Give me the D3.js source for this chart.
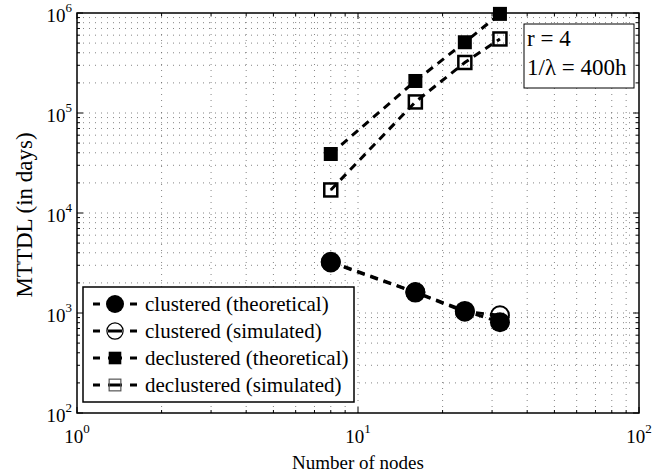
<!DOCTYPE html>
<html>
<head>
<meta charset="utf-8">
<script src="https://cdn.jsdelivr.net/npm/d3@7"></script>
<style>
  body { margin: 0; background: #fff; }
  text { font-family: "Liberation Serif", "Times New Roman", serif; fill: #000; }
</style>
</head>
<body>
<svg id="chart" width="667" height="473"></svg>
<script>
// Data
const nodes = [8, 16, 24, 32];
const clusteredTheo = [3250, 1620, 1050, 810];
const clusteredSim = [3200, 1600, 1030, 950];
const declusteredTheo = [38900, 209000, 510000, 980000];
const declusteredSim = [17000, 129000, 320000, 550000];

const xTickExp = [0, 1, 2];
const yTickExp = [2, 3, 4, 5, 6];

const seriesNames = [
  "clustered (theoretical)",
  "clustered (simulated)",
  "declustered (theoretical)",
  "declustered (simulated)"
];
const seriesValues = [clusteredTheo, clusteredSim, declusteredTheo, declusteredSim];
const seriesMarkers = ["dot", "ring", "square", "box"];

const svg = d3.select("#chart");
const margin = { top: 13, right: 28, bottom: 60, left: 77 };
const W = 667, H = 473;

const x = d3.scaleLog().domain([1, 100]).range([margin.left, W - margin.right]);
const y = d3.scaleLog().domain([100, 1e6]).range([H - margin.bottom, margin.top]);
const [x0, x1] = x.range();
const [y0, y1] = y.range();

// minor + major values
const minorX = [], minorY = [];
for (let e = 0; e < 2; e++) for (let k = 2; k <= 9; k++) minorX.push(k * Math.pow(10, e));
for (let e = 2; e < 6; e++) for (let k = 2; k <= 9; k++) minorY.push(k * Math.pow(10, e));
const majorX = xTickExp.map(e => Math.pow(10, e));
const majorY = yTickExp.map(e => Math.pow(10, e));

// Grid (dotted)
const grid = svg.append("g").attr("stroke", "#000").attr("stroke-width", 0.8)
  .attr("stroke-dasharray", "1,5").attr("opacity", 0.6);
minorX.concat(majorX.slice(1, -1)).forEach(v => {
  grid.append("line").attr("x1", x(v)).attr("x2", x(v)).attr("y1", y0).attr("y2", y1);
});
minorY.concat(majorY.slice(1, -1)).forEach(v => {
  grid.append("line").attr("y1", y(v)).attr("y2", y(v)).attr("x1", x0).attr("x2", x1);
});

// Ticks on all four sides, pointing inward
const ticks = svg.append("g").attr("stroke", "#000").attr("stroke-width", 1);
const tick = (v, len, horiz) => {
  if (horiz) {
    ticks.append("line").attr("x1", x(v)).attr("x2", x(v)).attr("y1", y0).attr("y2", y0 - len);
    ticks.append("line").attr("x1", x(v)).attr("x2", x(v)).attr("y1", y1).attr("y2", y1 + len);
  } else {
    ticks.append("line").attr("y1", y(v)).attr("y2", y(v)).attr("x1", x0).attr("x2", x0 + len);
    ticks.append("line").attr("y1", y(v)).attr("y2", y(v)).attr("x1", x1).attr("x2", x1 - len);
  }
};
majorX.forEach(v => tick(v, 6, true));
minorX.forEach(v => tick(v, 3, true));
majorY.forEach(v => tick(v, 6, false));
minorY.forEach(v => tick(v, 3, false));

// Box
svg.append("rect").attr("x", x0).attr("y", y1).attr("width", x1 - x0).attr("height", y0 - y1)
  .attr("fill", "none").attr("stroke", "#000").attr("stroke-width", 1.5);

// Tick labels (10^n)
xTickExp.forEach(e => {
  const t = svg.append("text").attr("x", x(Math.pow(10, e))).attr("y", y0 + 30)
    .attr("text-anchor", "middle").style("font-size", "19px");
  t.append("tspan").text("10");
  t.append("tspan").attr("dy", -10).style("font-size", "13px").text(e);
});
yTickExp.forEach(e => {
  const t = svg.append("text").attr("x", x0 - 5).attr("y", y(Math.pow(10, e)) + 9)
    .attr("text-anchor", "end").style("font-size", "19px");
  t.append("tspan").text("10");
  t.append("tspan").attr("dy", -10).style("font-size", "13px").text(e);
});

// Axis titles
svg.append("text").attr("x", (x0 + x1) / 2).attr("y", H - 4)
  .attr("text-anchor", "middle").style("font-size", "19px").text("Number of nodes");
svg.append("text").attr("transform", `translate(32,${(y0 + y1) / 2 + 2}) rotate(-90)`)
  .attr("text-anchor", "middle").style("font-size", "23px").text("MTTDL (in days)");

// Markers
function marker(g, type, cx, cy, big) {
  const s = big ? 1 : 0.9;
  if (type === "dot") {
    g.append("circle").attr("cx", cx).attr("cy", cy).attr("r", 10 * s).attr("fill", "#000");
  } else if (type === "ring") {
    g.append("circle").attr("cx", cx).attr("cy", cy).attr("r", 9 * s)
      .attr("fill", "none").attr("stroke", "#000").attr("stroke-width", big ? 2 : 1.2);
  } else if (type === "square") {
    const a = 14 * s;
    g.append("rect").attr("x", cx - a / 2).attr("y", cy - a / 2).attr("width", a).attr("height", a)
      .attr("fill", "#000");
  } else {
    const a = 13 * s;
    g.append("rect").attr("x", cx - a / 2).attr("y", cy - a / 2).attr("width", a).attr("height", a)
      .attr("fill", "none").attr("stroke", big ? "#000" : "#555").attr("stroke-width", big ? 2.5 : 1.2);
  }
}

// Series lines and markers
const line = d3.line().x(d => x(d[0])).y(d => y(d[1]));
seriesValues.forEach((vals, i) => {
  const pts = nodes.map((n, j) => [n, vals[j]]);
  svg.append("path").datum(pts).attr("fill", "none").attr("stroke", "#000")
    .attr("stroke-width", 3).attr("stroke-dasharray", "8,6").attr("d", line);
  const g = svg.append("g");
  pts.forEach(p => marker(g, seriesMarkers[i], x(p[0]), y(p[1]), true));
});

// Legend
const leg = svg.append("g");
leg.append("rect").attr("x", 83).attr("y", 287).attr("width", 271).attr("height", 115)
  .attr("fill", "#fff").attr("stroke", "#000").attr("stroke-width", 1.5);
seriesNames.forEach((name, i) => {
  const ly = 304 + i * 27;
  leg.append("line").attr("x1", 93).attr("x2", 137).attr("y1", ly).attr("y2", ly)
    .attr("stroke", "#000").attr("stroke-width", 3).attr("stroke-dasharray", "7,8,14,8,7");
  marker(leg, seriesMarkers[i], 115, ly, false);
  leg.append("text").attr("x", 145).attr("y", ly + 7).style("font-size", "21px").text(name);
});

// Annotation box
const note = svg.append("g");
note.append("rect").attr("x", 524).attr("y", 24).attr("width", 110).attr("height", 64)
  .attr("fill", "#fff").attr("stroke", "#000").attr("stroke-width", 1);
note.append("text").attr("x", 527).attr("y", 46).style("font-size", "23px").text("r = 4");
note.append("text").attr("x", 527).attr("y", 75).style("font-size", "23px").text("1/λ = 400h");
</script>
</body>
</html>
